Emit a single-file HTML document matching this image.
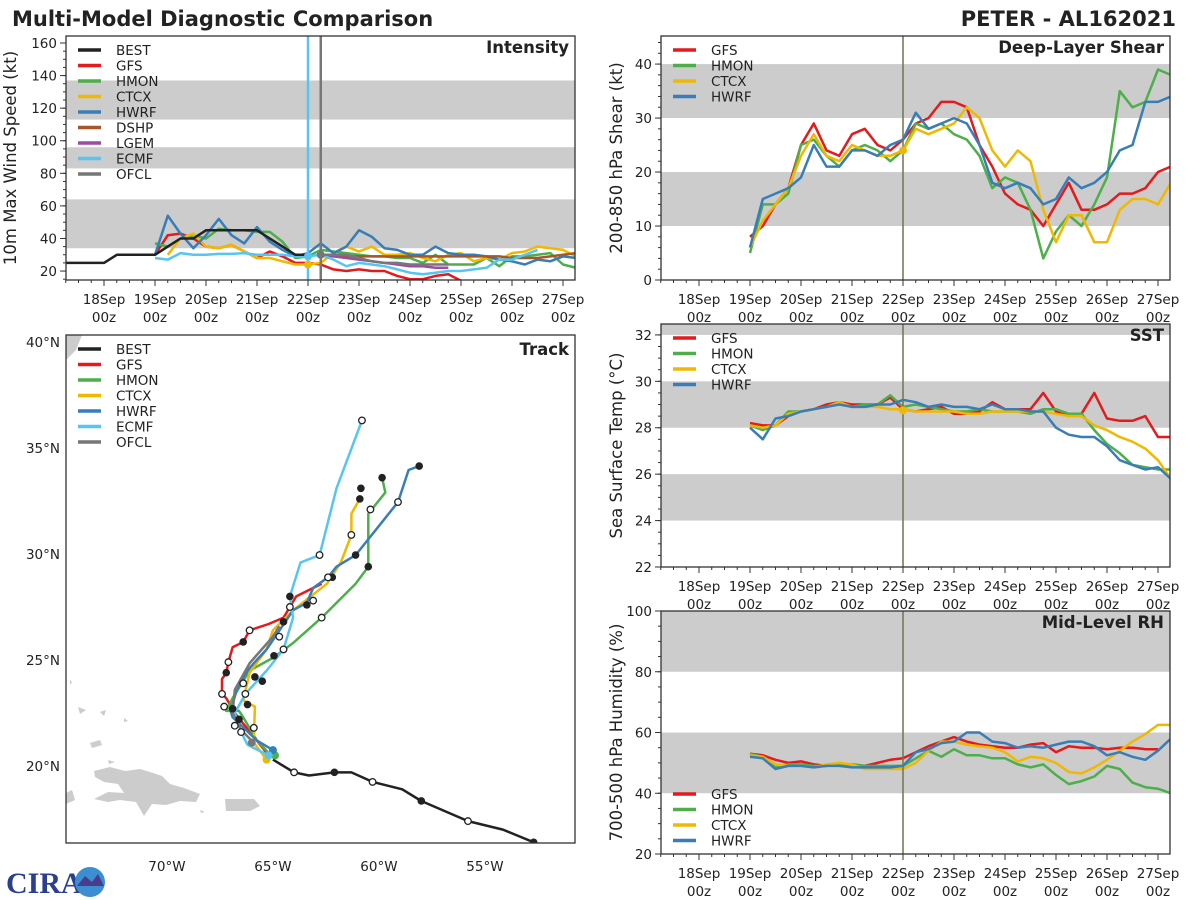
<!DOCTYPE html>
<html><head><meta charset="utf-8">
<style>
html,body{margin:0;padding:0;background:#fff;}
svg{display:block;font-family:"DejaVu Sans","Liberation Sans",sans-serif;}
</style></head>
<body>
<svg id="chart" width="1200" height="900" viewBox="0 0 1200 900" xmlns="http://www.w3.org/2000/svg">
<rect width="1200" height="900" fill="#fff"/>
<text x="12" y="26" font-size="21" font-weight="bold" fill="#222">Multi-Model Diagnostic Comparison</text>
<text x="1176" y="26" font-size="21" font-weight="bold" fill="#222" text-anchor="end">PETER - AL162021</text>
<defs>
<clipPath id="clipI"><rect x="66" y="36" width="509" height="244"/></clipPath>
<clipPath id="clipS"><rect x="661" y="36" width="509" height="244"/></clipPath>
<clipPath id="clipT"><rect x="661" y="324" width="509" height="243"/></clipPath>
<clipPath id="clipR"><rect x="661" y="611" width="509" height="243"/></clipPath>
<clipPath id="mapclip"><rect x="66" y="335" width="509" height="508"/></clipPath>
</defs>
<g id="layer"></g>
<g>
<text x="6" y="893" font-size="30" font-weight="bold" fill="#2b3f8f" font-family="Liberation Serif, serif">CIRA</text>
<circle cx="90" cy="882" r="15" fill="#3b8fd0"/>
<path d="M77 886 L85 876 L92 882 L98 874 L104 886 Z" fill="#4a3c8c"/>
</g>
</svg>
<script>
// ---------- DATA ----------
const dayLabels = ["18Sep","19Sep","20Sep","21Sep","22Sep","23Sep","24Sep","25Sep","26Sep","27Sep"];
const bestStart = -0.75;
const bestWind = [25,25,25,25,30,30,30,30,35,40,40,45,45,45,45,45,40,35,30,30];
const gfsWind  = [30,42,43,40,35,34,36,32,28,32,29,25,25,24,21,20,21,20,20,17,15,15,17,18,14,12,10];
const hmonWind = [37,35,40,42,40,46,45,45,44,44,38,28,29,33,32,31,30,29,29,28,28,25,30,24,24,24,28,23,29,29,30,31,24,22];
const ctcxWind = [30,40,43,35,34,36,32,28,28,26,24,24,25,31,35,32,35,30,30,31,28,26,30,31,26,28,27,31,32,35,34,33,29,28];
const hwrfWind = [30,54,43,34,42,52,42,37,47,38,33,29,31,37,31,35,45,41,34,33,30,30,35,31,30,30,29,27,26,24,27,26,29,28];
const dshpWind = [30,30,29,29,29,29,29,29,29,29,29,29,29,29,29,28,28,28,29,30,31,32];
const lgemWind = [30,29,28,27,26,25,24,23,23,22,22];
const ecmfWind = [28,27,31,30,30,30.5,30.5,31,30,30,30,29,29,30,27,23,25,24,23,21,19,18,19,20,20,21,22,27,27,30,33];
const ofclWind = [30,30,30,28,26,25,25,24,24,24,24];

const gfsShear  = [8,10,14,17,25,29,24,23,27,28,25,24,26,29,30,33,33,32,25,21,16,14,13,10,14,18,13,13,14,16,16,17,20,21];
const hmonShear = [5,14,14,16,25,26,23,21,24,25,24,22,24,29,28,29,27,26,23,17,19,18,13,4,9,12,10,14,19,35,32,33,39,38];
const ctcxShear = [6,11,14,17,23,27,23,22,25,24,23,23,24,28,27,28,29,32,30,24,21,24,22,13,7,12,12,7,7,13,15,15,14,18];
const hwrfShear = [6,15,16,17,19,25,21,21,24,24,23,25,26,31,28,29,30,29,25,18,17,18,17,14,15,19,17,18,20,24,25,33,33,34];

const gfsSst  = [28.2,28.1,28.1,28.5,28.7,28.8,29.0,29.1,29.0,29.0,29.0,29.3,28.8,28.7,28.8,28.9,28.6,28.6,28.7,29.1,28.8,28.8,28.8,29.5,28.7,28.6,28.6,29.5,28.4,28.3,28.3,28.5,27.6,27.6];
const hmonSst = [28.1,27.9,28.1,28.7,28.7,28.8,28.9,29.1,28.9,29.0,29.0,29.4,28.9,29.0,28.9,28.8,28.7,28.7,28.8,28.7,28.7,28.7,28.6,28.8,28.8,28.6,28.6,27.9,27.3,26.9,26.4,26.3,26.2,26.2];
const ctcxSst = [28.1,28.0,28.1,28.6,28.7,28.8,28.9,29.1,28.9,28.9,28.9,28.8,28.8,28.7,28.7,28.7,28.7,28.6,28.6,28.7,28.7,28.7,28.7,28.7,28.6,28.5,28.5,28.1,27.9,27.6,27.4,27.1,26.6,25.8];
const hwrfSst = [28.0,27.5,28.4,28.5,28.7,28.8,28.9,29.0,28.9,28.9,29.0,29.0,29.2,29.1,28.9,29.0,28.9,28.9,28.8,29.0,28.8,28.8,28.7,28.7,28.0,27.7,27.6,27.6,27.2,26.6,26.4,26.2,26.3,25.8];

const gfsRh  = [53,52.5,51,50,50.5,49.5,49,49.5,49.5,49,50,51,51.5,53.5,55.5,57,58.5,57,56,55.5,55,55,56,56.5,53.5,55.5,55,55,54.5,55,55,54.5,54.5];
const hmonRh = [53,52,48.5,49.5,49.5,49,49,49.5,49.5,49,49,49,49,51.5,54,52,54.5,52.5,52.5,51.5,51.5,49.5,48.5,49.5,46,43,44,45.5,49,48,43.5,42,41.5,40];
const ctcxRh = [52.5,52,49.5,49,49,48.5,49.5,50,49.5,48,48,48,48,50,54,57,57,56,55.5,55,53.5,50.5,52,51.5,50,47,46.5,48.5,51,54,57,59.5,62.5,62.5];
const hwrfRh = [52,51.5,48,49,49,48.5,49,49,48.5,48.5,48.5,48.5,49,53.5,54.5,56.5,57,60,60,57,56.5,55,55.5,55,56,57,57,55.5,52.5,53.5,52,51,54,58];

// track lon (deg W), lat (deg N)
const bestLon = [52.7,54.15,55.8,58.0,58.9,60.3,61.3,62.1,63.3,64.0,65.0];
const bestLat = [16.4,17.0,17.4,18.35,18.9,19.25,19.7,19.7,19.55,19.7,20.3];
const gfsLon = [65.2,65.6,66.8,67.2,67.4,67.4,67.2,67.1,66.9,66.4,66.1,65.2,64.5,64.2,63.9,62.7];
const gfsLat = [20.5,21.0,22.5,23.2,23.4,24.1,24.4,24.9,25.6,25.85,26.4,26.7,27.0,27.5,28.0,28.6];
const hmonLon = [65.0,65.75,66.4,66.6,67.2,66.9,66.1,65.0,64.05,62.7,61.1,60.5,60.5,59.7,59.85];
const hmonLat = [20.4,21.2,22.3,22.6,22.6,23.2,24.5,25.1,25.8,27.0,28.6,29.4,31.9,32.9,33.6];
const ctcxLon = [65.3,65.9,65.85,66.4,66.1,65.3,65.0,64.05,62.45,61.8,61.3,61.3,60.9];
const ctcxLat = [20.3,21.1,22.8,23.1,24.4,25.5,26.4,27.35,28.6,29.6,30.9,31.9,32.6];
const hwrfLon = [65.0,65.75,66.9,67.0,66.7,66.2,65.9,65.3,64.05,63.4,63.1,62.4,62.0,61.1,59.1,58.6,58.1];
const hwrfLat = [20.75,21.2,22.3,22.6,23.6,24.5,24.85,25.5,27.35,27.7,28.4,28.9,29.4,29.95,32.45,33.96,34.15];
const ecmfLon = [65.2,66.2,66.5,66.8,66.3,65.3,64.5,64.05,64.2,63.7,62.8,62.0,60.8];
const ecmfLat = [20.5,21.0,21.6,22.5,23.4,24.5,25.5,27.0,28.0,29.6,29.95,33.1,36.3];
const ofclLon = [65.9,66.5,66.9,66.8,66.1,65.0,64.7];
const ofclLat = [21.1,21.7,22.5,23.6,24.85,26.1,26.6];
const filledLon = [60.85,59.85,58.1,60.9,60.5,61.1,62.2,64.2,63.4,64.5,66.4,67.2,66.2,66.9,66.6,65.85,65.5,64.95,52.7,58.0,62.1];
const filledLat = [33.1,33.6,34.15,32.6,29.4,29.95,28.9,28.0,27.6,26.8,25.85,24.4,22.9,22.7,22.2,24.2,24.0,25.2,16.4,18.35,19.7];
const openLon = [60.8,60.4,61.3,59.1,62.8,62.4,63.1,64.2,66.1,64.7,62.7,64.5,67.1,67.4,67.3,66.3,66.4,65.9,66.5,66.8,64.0,60.3,55.8];
const openLat = [36.3,32.1,30.9,32.45,29.95,28.9,27.8,27.5,26.4,26.1,27.0,25.5,24.9,23.4,22.8,23.4,23.9,21.8,21.6,21.9,19.7,19.25,17.4];

// ---------- HELPERS ----------
const NS = "http://www.w3.org/2000/svg";
const root = document.getElementById('layer');
const C = {BEST:"#222222",GFS:"#e41a1c",HMON:"#4daf4a",CTCX:"#f0b800",HWRF:"#377eb8",DSHP:"#a65628",LGEM:"#984ea3",ECMF:"#56c5f2",OFCL:"#777777"};
function el(tag, attrs, parent){
  const e = document.createElementNS(NS, tag);
  for (const k in attrs) e.setAttribute(k, attrs[k]);
  (parent||root).appendChild(e);
  return e;
}
function txt(s, attrs, parent){ const e = el('text', attrs, parent); e.textContent = s; return e; }

function panel(cfg){
  const g = el('g', {});
  
  
  const {x0,x1,y0,y1,vmin,vmax,day0x} = cfg;
  const X = t => day0x + t*51;
  const Y = v => y1 - (v - vmin)/(vmax - vmin)*(y1 - y0);
  cfg.X = X; cfg.Y = Y;
  cfg.bands.forEach(b=>{
    const r = el('rect', {x:x0, y:Y(Math.min(b[1],vmax)), width:x1-x0, height:Y(b[0])-Y(Math.min(b[1],vmax)), fill:'#cccccc'}, g);
    
    
  });
  cfg.yticks.forEach(v=>{
    el('line', {x1:x0-6, x2:x0, y1:Y(v), y2:Y(v), stroke:'#333', 'stroke-width':1}, g);
    const t = txt(String(v), {x:x0-9, y:Y(v)+5, 'font-size':13.5, 'text-anchor':'end', fill:'#222'}, g);
    
    
  });
  for (let v = Math.ceil(vmin/cfg.minor)*cfg.minor; v <= vmax; v += cfg.minor)
    el('line', {x1:x0-3, x2:x0, y1:Y(v), y2:Y(v), stroke:'#333', 'stroke-width':1}, g);
  dayLabels.forEach((d,i)=>{
    const x = X(i);
    el('line', {x1:x, x2:x, y1:y1, y2:y1+6, stroke:'#333'}, g);
    const t1 = txt(d, {x:x, y:y1+24, 'font-size':13.5, 'text-anchor':'middle', fill:'#222'}, g);
    
    
    txt('00z', {x:x, y:y1+42, 'font-size':13.5, 'text-anchor':'middle', fill:'#222'}, g);
  });
  for (let t = -0.75; X(t) <= x1; t += 0.25)
    el('line', {x1:X(t), x2:X(t), y1:y1, y2:y1+3, stroke:'#333'}, g);
  const yl = txt(cfg.ylabel, {x:0, y:0, 'font-size':16.5, 'text-anchor':'middle', fill:'#222', transform:`translate(${cfg.ylx},${(y0+y1)/2}) rotate(-90)`}, g);
  
  
  const ttl = txt(cfg.title, {x:x1-6, y:y0+17, 'font-size':16.5, 'font-weight':'bold', 'text-anchor':'end', fill:'#222'}, g);
  
  
  cfg.g = g;
  cfg.dg = el('g', {'clip-path':`url(#${cfg.clip})`}, g);
  return cfg;
}
function series(cfg, name, vals, start){
  const pts = vals.map((v,i)=>`${cfg.X(start+i*0.25).toFixed(1)},${cfg.Y(v).toFixed(1)}`).join(' ');
  const p = el('polyline', {points:pts, fill:'none', stroke:C[name], 'stroke-width':2.5, 'stroke-linejoin':'round'}, cfg.dg);
  
  
}
function frame(cfg){
  el('rect', {x:cfg.x0, y:cfg.y0, width:cfg.x1-cfg.x0, height:cfg.y1-cfg.y0, fill:'none', stroke:'#333', 'stroke-width':1.3}, cfg.g);
}
function legend(g, names, x, y, dy){
  names.forEach((n,i)=>{
    const lg = el('g', {}, g);
    
    
    el('line', {x1:x, x2:x+23, y1:y+i*dy, y2:y+i*dy, stroke:C[n], 'stroke-width':3.5}, lg);
    txt(n, {x:x+38, y:y+i*dy+5, 'font-size':13.5, fill:'#222'}, lg);
  });
}

// ---------- INTENSITY ----------
const pI = panel({name:'intensity-panel', clip:'clipI', x0:66, x1:575, y0:36, y1:280, vmin:14.5, vmax:164.3, day0x:104,
  bands:[[34,64],[83,96],[113,137]], yticks:[20,40,60,80,100,120,140,160], minor:5, ylabel:'10m Max Wind Speed (kt)', ylx:16, title:'Intensity'});
series(pI,'GFS',gfsWind,1); series(pI,'HMON',hmonWind,1); series(pI,'CTCX',ctcxWind,1.25);
series(pI,'HWRF',hwrfWind,1); series(pI,'DSHP',dshpWind,4.25); series(pI,'LGEM',lgemWind,4.25);
series(pI,'ECMF',ecmfWind,1); series(pI,'OFCL',ofclWind,4.25); series(pI,'BEST',bestWind,bestStart);
el('line', {x1:pI.X(4), x2:pI.X(4), y1:36, y2:280, stroke:C.ECMF, 'stroke-width':2.5}, pI.dg);
el('line', {x1:pI.X(4.25), x2:pI.X(4.25), y1:36, y2:280, stroke:'#777', 'stroke-width':2.5}, pI.dg);
el('circle', {cx:pI.X(4), cy:pI.Y(24), r:4, fill:C.CTCX}, pI.dg);
el('circle', {cx:pI.X(4), cy:pI.Y(29), r:4, fill:C.ECMF}, pI.dg);
el('circle', {cx:pI.X(4.25), cy:pI.Y(30), r:4, fill:'#777'}, pI.dg);
frame(pI);
legend(pI.g, ['BEST','GFS','HMON','CTCX','HWRF','DSHP','LGEM','ECMF','OFCL'], 78, 50, 15.5);

// ---------- SHEAR ----------
const pS = panel({name:'shear-panel', clip:'clipS', x0:661, x1:1170, y0:36, y1:280, vmin:0, vmax:45.2, day0x:699,
  bands:[[10,20],[30,40]], yticks:[0,10,20,30,40], minor:2, ylabel:'200-850 hPa Shear (kt)', ylx:622, title:'Deep-Layer Shear'});
series(pS,'GFS',gfsShear,1); series(pS,'HMON',hmonShear,1); series(pS,'CTCX',ctcxShear,1); series(pS,'HWRF',hwrfShear,1);
el('line', {x1:pS.X(4), x2:pS.X(4), y1:36, y2:280, stroke:'#6f7550', 'stroke-width':1.5}, pS.dg);
el('circle', {cx:pS.X(4), cy:pS.Y(24), r:4, fill:C.CTCX}, pS.dg);
frame(pS);
legend(pS.g, ['GFS','HMON','CTCX','HWRF'], 673, 50, 15.5);

// ---------- SST ----------
const pT = panel({name:'sst-panel', clip:'clipT', x0:661, x1:1170, y0:324, y1:567, vmin:22, vmax:32.47, day0x:699,
  bands:[[24,26],[28,30],[32,33]], yticks:[22,24,26,28,30,32], minor:0.5, ylabel:'Sea Surface Temp (°C)', ylx:622, title:'SST'});
series(pT,'GFS',gfsSst,1); series(pT,'HMON',hmonSst,1); series(pT,'CTCX',ctcxSst,1); series(pT,'HWRF',hwrfSst,1);
el('line', {x1:pT.X(4), x2:pT.X(4), y1:324, y2:567, stroke:'#6f7550', 'stroke-width':1.5}, pT.dg);
el('circle', {cx:pT.X(4), cy:pT.Y(28.75), r:4, fill:C.CTCX}, pT.dg);
frame(pT);
legend(pT.g, ['GFS','HMON','CTCX','HWRF'], 673, 338, 15.5);

// ---------- RH ----------
const pR = panel({name:'rh-panel', clip:'clipR', x0:661, x1:1170, y0:611, y1:854, vmin:20, vmax:100, day0x:699,
  bands:[[40,60],[80,100]], yticks:[20,40,60,80,100], minor:5, ylabel:'700-500 hPa Humidity (%)', ylx:622, title:'Mid-Level RH'});
series(pR,'GFS',gfsRh,1); series(pR,'HMON',hmonRh,1); series(pR,'CTCX',ctcxRh,1); series(pR,'HWRF',hwrfRh,1);
el('line', {x1:pR.X(4), x2:pR.X(4), y1:611, y2:854, stroke:'#6f7550', 'stroke-width':1.5}, pR.dg);
frame(pR);
legend(pR.g, ['GFS','HMON','CTCX','HWRF'], 673, 794, 15.5);

// ---------- TRACK MAP ----------
const gm = el('g', {});


const LX = lon => 66 + (74.76 - lon)*21.2;
const LY = lat => 335 + (40.33 - lat)*21.2;
const land = el('g', {'clip-path':'url(#mapclip)', fill:'#cccccc'}, gm);


el('path', {d:'M66 335 L82 335 L76 350 L66 360 Z'}, land);
el('path', {d:'M66 793 L72 790 L75 800 L66 804 Z'}, land);
el('path', {d:'M94 771 L110 767 L125 771 L140 769 L150 772 L162 776 L170 784 L184 788 L200 794 L196 802 L180 801 L166 805 L152 804 L144 816 L136 802 L120 800 L108 802 L94 799 L108 792 L124 793 L118 784 L104 782 L95 777 Z'}, land);
el('path', {d:'M225 799 L254 799 L260 806 L250 811 L226 811 Z'}, land);
el('path', {d:'M90 743 L100 740 L102 745 L92 748 Z'}, land);
el('path', {d:'M100 712 L106 710 L104 716 Z M78 707 L86 710 L80 714 Z M70 680 L72 682 L70 685 Z M124 718 L128 721 L124 722 Z M108 760 L115 762 L109 764 Z M200 810 L205 812 L201 813 Z'}, land);
const tg = el('g', {'clip-path':'url(#mapclip)'}, gm);
function track(name, lons, lats){
  const pts = lons.map((v,i)=>`${LX(v).toFixed(1)},${LY(lats[i]).toFixed(1)}`).join(' ');
  const p = el('polyline', {points:pts, fill:'none', stroke:C[name], 'stroke-width':2.5, 'stroke-linejoin':'round'}, tg);
  
  
}
track('BEST', bestLon, bestLat);
track('GFS', gfsLon, gfsLat); track('HMON', hmonLon, hmonLat); track('CTCX', ctcxLon, ctcxLat);
track('HWRF', hwrfLon, hwrfLat); track('ECMF', ecmfLon, ecmfLat); track('OFCL', ofclLon, ofclLat);
filledLon.forEach((v,i)=>{
  const c = el('circle', {cx:LX(v), cy:LY(filledLat[i]), r:3.8, fill:'#222'}, tg);
  
  
});
openLon.forEach((v,i)=>{
  const c = el('circle', {cx:LX(v), cy:LY(openLat[i]), r:3.3, fill:'#fff', stroke:'#222', 'stroke-width':1.3}, tg);
  
  
});
el('circle', {cx:LX(65.3), cy:LY(20.3), r:4, fill:C.CTCX}, tg);
el('circle', {cx:LX(64.9), cy:LY(20.5), r:4, fill:C.HMON}, tg);
el('circle', {cx:LX(65.0), cy:LY(20.75), r:4, fill:C.HWRF}, tg);
el('circle', {cx:LX(65.2), cy:LY(20.5), r:4, fill:C.ECMF}, tg);
el('circle', {cx:LX(66.0), cy:LY(21.1), r:4, fill:'#777'}, tg);
el('rect', {x:66, y:335, width:509, height:508, fill:'none', stroke:'#333', 'stroke-width':1.3}, gm);
const tt = txt('Track', {x:569, y:355, 'font-size':16.5, 'font-weight':'bold', 'text-anchor':'end', fill:'#222'}, gm);


[40,35,30,25,20].forEach(l=>{
  const t = txt(l + '°N', {x:60, y:LY(l)+5, 'font-size':13.5, 'text-anchor':'end', fill:'#222'}, gm);
  
  
});
[70,65,60,55].forEach(l=>{
  const t = txt(l + '°W', {x:LX(l), y:871, 'font-size':13.5, 'text-anchor':'middle', fill:'#222'}, gm);
  
  
});
legend(gm, ['BEST','GFS','HMON','CTCX','HWRF','ECMF','OFCL'], 78, 349, 15.5);
</script>
</body></html>
